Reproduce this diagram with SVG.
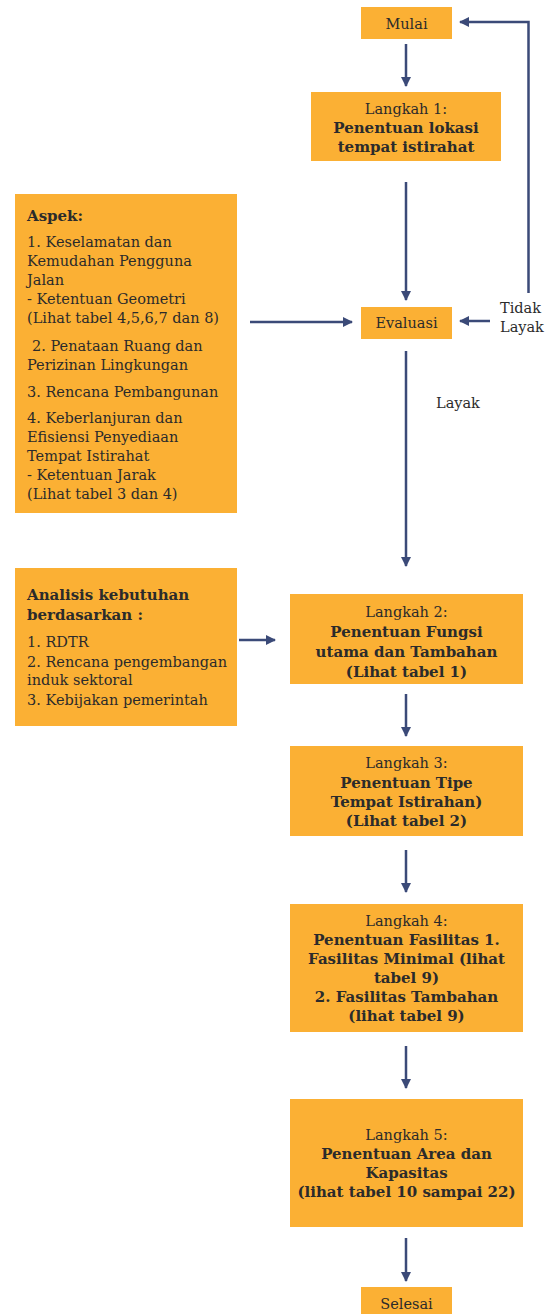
<svg xmlns="http://www.w3.org/2000/svg" width="549" height="1314" viewBox="0 0 549 1314">
<style>
.box{fill:#FBB034}
text{font-family:"DejaVu Serif","Liberation Serif",serif;font-size:14.5px;fill:#2b2b2b}
.c{text-anchor:middle}
.b{font-weight:bold;font-size:15px}
.ln{stroke:#3B4A78;stroke-width:2.5;fill:none}
</style>
<defs>
<marker id="ah" markerWidth="10" markerHeight="10" refX="9" refY="5" orient="auto" markerUnits="userSpaceOnUse">
<path d="M0,0 L10,5 L0,10 Z" fill="#3B4A78"/>
</marker>
</defs>
<rect width="549" height="1314" fill="#ffffff"/>
<g id="connectors">
<line class="ln" x1="406" y1="44" x2="406" y2="86" marker-end="url(#ah)"/>
<line class="ln" x1="406" y1="182" x2="406" y2="300" marker-end="url(#ah)"/>
<line class="ln" x1="250" y1="322" x2="352" y2="322" marker-end="url(#ah)"/>
<line class="ln" x1="490" y1="321" x2="460" y2="321" marker-end="url(#ah)"/>
<polyline class="ln" points="528.5,293 528.5,22 460,22" marker-end="url(#ah)"/>
<line class="ln" x1="406" y1="351" x2="406" y2="566" marker-end="url(#ah)"/>
<line class="ln" x1="239" y1="640" x2="275" y2="640" marker-end="url(#ah)"/>
<line class="ln" x1="406" y1="694" x2="406" y2="736" marker-end="url(#ah)"/>
<line class="ln" x1="406" y1="850" x2="406" y2="892" marker-end="url(#ah)"/>
<line class="ln" x1="406" y1="1046" x2="406" y2="1088" marker-end="url(#ah)"/>
<line class="ln" x1="406" y1="1238" x2="406" y2="1281" marker-end="url(#ah)"/>
<text x="500" y="313">Tidak</text>
<text x="500" y="332">Layak</text>
<text x="436" y="408">Layak</text>
</g>
<g id="mulai">
<rect class="box" x="361" y="7" width="91" height="32"/>
<text class="c" x="406.5" y="29">Mulai</text>
</g>
<g id="langkah1">
<rect class="box" x="311" y="92" width="190" height="69"/>
<text class="c" x="406" y="114">Langkah 1:</text>
<text class="c b" x="406" y="133">Penentuan lokasi</text>
<text class="c b" x="406" y="152">tempat istirahat</text>
</g>
<g id="aspek">
<rect class="box" x="15" y="194" width="222" height="319"/>
<text class="b" x="27" y="221">Aspek:</text>
<text x="27" y="247">1. Keselamatan dan</text>
<text x="27" y="266">Kemudahan Pengguna</text>
<text x="27" y="285">Jalan</text>
<text x="27" y="304">- Ketentuan Geometri</text>
<text x="27" y="323">(Lihat tabel 4,5,6,7 dan 8)</text>
<text x="32" y="351">2. Penataan Ruang dan</text>
<text x="27" y="370">Perizinan Lingkungan</text>
<text x="27" y="397">3. Rencana Pembangunan</text>
<text x="27" y="423">4. Keberlanjuran dan</text>
<text x="27" y="442">Efisiensi Penyediaan</text>
<text x="27" y="461">Tempat Istirahat</text>
<text x="27" y="480">- Ketentuan Jarak</text>
<text x="27" y="499">(Lihat tabel 3 dan 4)</text>
</g>
<g id="evaluasi">
<rect class="box" x="361" y="307" width="91" height="32"/>
<text class="c" x="406.5" y="328">Evaluasi</text>
</g>
<g id="analisis">
<rect class="box" x="15" y="568" width="222" height="158"/>
<text class="b" x="27" y="600">Analisis kebutuhan</text>
<text class="b" x="27" y="620">berdasarkan :</text>
<text x="27" y="647">1. RDTR</text>
<text x="27" y="667">2. Rencana pengembangan</text>
<text x="27" y="685">induk sektoral</text>
<text x="27" y="705">3. Kebijakan pemerintah</text>
</g>
<g id="langkah2">
<rect class="box" x="290" y="594" width="233" height="90"/>
<text class="c" x="406.5" y="617">Langkah 2:</text>
<text class="c b" x="406.5" y="637">Penentuan Fungsi</text>
<text class="c b" x="406.5" y="657">utama dan Tambahan</text>
<text class="c b" x="406.5" y="677">(Lihat tabel 1)</text>
</g>
<g id="langkah3">
<rect class="box" x="290" y="746" width="233" height="90"/>
<text class="c" x="406.5" y="768">Langkah 3:</text>
<text class="c b" x="406.5" y="788">Penentuan Tipe</text>
<text class="c b" x="406.5" y="807">Tempat Istirahan)</text>
<text class="c b" x="406.5" y="826">(Lihat tabel 2)</text>
</g>
<g id="langkah4">
<rect class="box" x="290" y="904" width="233" height="128"/>
<text class="c" x="406.5" y="926">Langkah 4:</text>
<text class="c b" x="406.5" y="945">Penentuan Fasilitas 1.</text>
<text class="c b" x="406.5" y="964">Fasilitas Minimal (lihat</text>
<text class="c b" x="406.5" y="983">tabel 9)</text>
<text class="c b" x="406.5" y="1002">2. Fasilitas Tambahan</text>
<text class="c b" x="406.5" y="1021">(lihat tabel 9)</text>
</g>
<g id="langkah5">
<rect class="box" x="290" y="1099" width="233" height="128"/>
<text class="c" x="406.5" y="1140">Langkah 5:</text>
<text class="c b" x="406.5" y="1159">Penentuan Area dan</text>
<text class="c b" x="406.5" y="1178">Kapasitas</text>
<text class="c b" x="406.5" y="1197">(lihat tabel 10 sampai 22)</text>
</g>
<g id="selesai">
<rect class="box" x="361" y="1287" width="91" height="27"/>
<text class="c" x="406.5" y="1309">Selesai</text>
</g>
</svg>
